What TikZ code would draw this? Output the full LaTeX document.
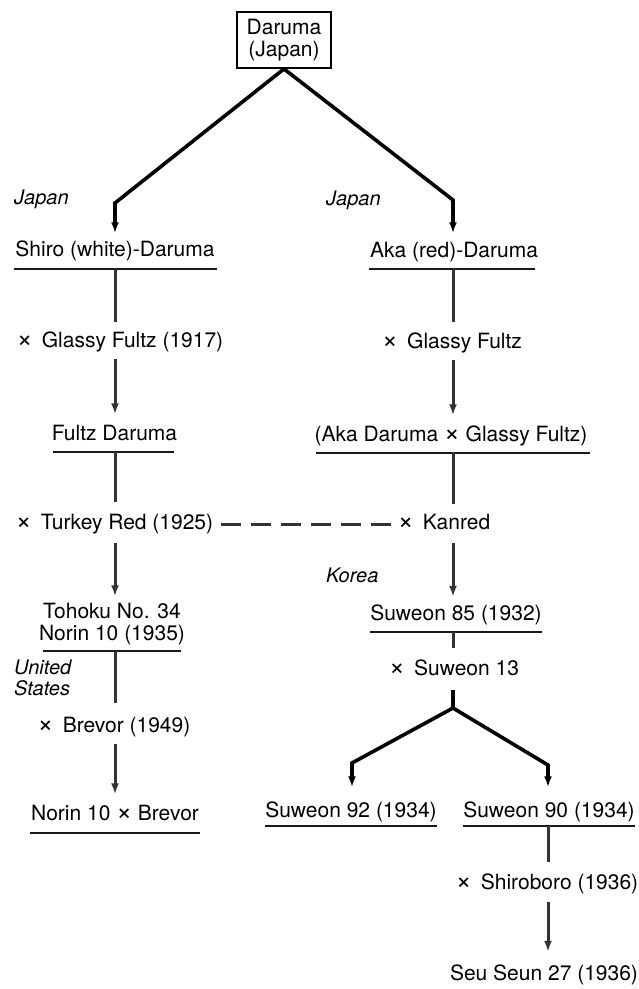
\documentclass[tikz,border=0pt]{standalone}
\usepackage{fontspec}
\setmainfont{TeX Gyre Heros}
\usetikzlibrary{arrows.meta}
\newcommand{\crs}{{\fontsize{27}{22}\selectfont ×}}
\begin{document}
\begin{tikzpicture}[x=1pt,y=-1pt,
  lbl/.style={inner sep=0pt, text height=15pt, text depth=0pt, font=\fontsize{21}{22}\selectfont},
  ctry/.style={inner sep=0pt, text height=15pt, text depth=0pt, anchor=west, font=\fontsize{20}{21}\selectfont\itshape},
  conn/.style={line width=3pt, draw=black!80},
  tip/.style={-{Latex[length=11pt,width=8pt]}},
  arr/.style={conn, tip},
  branch/.style={line width=3.6pt, line join=miter, tip},
  uline/.style={line width=1.8pt, draw=black!90},
  gap/.style={shorten <=11pt, shorten >=11pt}
]
\useasboundingbox (0,0) rectangle (639,989);

% root box
\node[draw, line width=1.8pt, minimum width=94pt, minimum height=56pt, align=center,
      inner sep=0pt, font=\fontsize{21}{22}\selectfont] (root) at (284,40) {Daruma\\(Japan)};

% country labels
\node[ctry] (japL) at (14,197) {Japan};
\node[ctry] (japR) at (326,198) {Japan};
\node[ctry] (korea) at (326,575) {Korea};
\node[inner sep=0pt, anchor=north west, align=left, font=\fontsize{20}{21}\selectfont\itshape] (usa) at (14,660) {United\\States};

% left column
\node[lbl] (shiro) at (115,249) {Shiro (white)-Daruma};
\node[lbl] (gfL) at (120,340) {\crs\, Glassy Fultz (1917)};
\node[lbl] (fultz) at (114.5,433) {Fultz Daruma};
\node[lbl] (turkey) at (114.5,522) {\crs\, Turkey Red (1925)};
\node[lbl] (tohoku) at (112,611) {Tohoku No. 34};
\node[lbl] (norin) at (112,633) {Norin 10 (1935)};
\node[lbl] (brevor) at (114,725) {\crs\, Brevor (1949)};
\node[lbl] (nb) at (115,813) {Norin 10 \crs\ Brevor};

% right column
\node[lbl] (aka) at (454,250) {Aka (red)-Daruma};
\node[lbl] (gfR) at (452,341) {\crs\, Glassy Fultz};
\node[lbl] (akagf) at (451,434) {(Aka Daruma \crs\ Glassy Fultz)};
\node[lbl] (kanred) at (444,522) {\crs\, Kanred};
\node[lbl] (suw85) at (456,613) {Suweon 85 (1932)};
\node[lbl] (suw13) at (454,668) {\crs\, Suweon 13};
\node[lbl] (s92) at (351,810) {Suweon 92 (1934)};
\node[lbl] (s90) at (549,810) {Suweon 90 (1934)};
\node[lbl] (shiroboro) at (547,882) {\crs\, Shiroboro (1936)};
\node[lbl] (seu) at (544,973) {Seu Seun 27 (1936)};

% underlines
\draw[uline] ([xshift=-1pt,yshift=-12pt]shiro.south west) -- ([xshift=2pt,yshift=-12pt]shiro.south east);
\draw[uline] ([xshift=-1pt,yshift=-11.5pt]aka.south west) -- ([xshift=-3pt,yshift=-11.5pt]aka.south east);
\draw[uline] ([xshift=1pt,yshift=-11pt]fultz.south west) -- ([xshift=-3pt,yshift=-11pt]fultz.south east);
\draw[uline] ([xshift=2pt,yshift=-11pt]akagf.south west) -- ([xshift=2pt,yshift=-11pt]akagf.south east);
\draw[uline] ([yshift=-10.5pt]norin.south west -| tohoku.west) -- ([yshift=-10.5pt]norin.south east -| tohoku.east);
\draw[uline] ([yshift=-11.5pt]suw85.south west) -- ([yshift=-11.5pt]suw85.south east);
\draw[uline] ([xshift=-1pt,yshift=-12.5pt]nb.south west) -- ([xshift=1pt,yshift=-12.5pt]nb.south east);
\draw[uline] ([yshift=-8.5pt]s92.south west) -- ([yshift=-8.5pt]s92.south east);
\draw[uline] ([yshift=-8.5pt]s90.south west) -- ([yshift=-8.5pt]s90.south east);

% coordinates on the column axes
\coordinate (uShiro) at (115,269);
\coordinate (uAka) at (453,269);
\coordinate (uFultz) at (115,452);
\coordinate (uAkagf) at (453,452);
\coordinate (uNorin) at (115,651);
\coordinate (uSuw85) at (453,632);
\coordinate (jl) at (115,203);
\coordinate (jr) at (453,200);
\coordinate (junc) at (453,708);
\coordinate (bl) at (352,763);
\coordinate (br) at (548,765);
\coordinate (uS90) at (548,826);
\coordinate (dashEnd) at (393,524);

% top branches
\draw[branch, shorten >=8pt] (root.south) -- (jl) -- (jl |- shiro.north);
\draw[branch, shorten >=9pt] (root.south) -- (jr) -- (jr |- aka.north);

% left chain
\draw[conn, shorten >=10.5pt] (uShiro) -- (uShiro |- gfL.north);
\draw[arr, gap] (uShiro |- gfL.south) -- (uShiro |- fultz.north);
\draw[conn, shorten >=12pt] (uFultz) -- (uFultz |- turkey.north);
\draw[arr, shorten <=13pt, shorten >=7pt] (uFultz |- turkey.south) -- (uFultz |- tohoku.north);
\draw[conn, shorten >=14pt] (uNorin) -- (uNorin |- brevor.north);
\draw[arr, gap] (uNorin |- brevor.south) -- (uNorin |- nb.north);

% right chain
\draw[conn, shorten >=11pt] (uAka) -- (uAka |- gfR.north);
\draw[arr, gap] (uAka |- gfR.south) -- (uAka |- akagf.north);
\draw[conn, shorten >=10pt] (uAkagf) -- (uAkagf |- kanred.north);
\draw[arr, shorten <=13pt, shorten >=8.5pt] (uAkagf |- kanred.south) -- (uAkagf |- suw85.north);
\draw[conn, shorten >=12pt] (uSuw85) -- (uSuw85 |- suw13.north);
\draw[branch, -, shorten <=14pt] (uSuw85 |- suw13.south) -- (junc);
\draw[branch, shorten >=15pt] (junc) -- (bl) -- (bl |- s92.north);
\draw[branch, shorten >=15pt] (junc) -- (br) -- (br |- s90.north);
\draw[conn, shorten >=12.5pt] (uS90) -- (uS90 |- shiroboro.north);
\draw[arr, shorten <=12.5pt, shorten >=13.5pt] (uS90 |- shiroboro.south) -- (uS90 |- seu.north);

% dashed link (six dashes)
\draw[conn, dash pattern=on 20pt off 10pt] ([xshift=8pt]turkey.east |- dashEnd) -- (dashEnd);
\end{tikzpicture}
\end{document}
